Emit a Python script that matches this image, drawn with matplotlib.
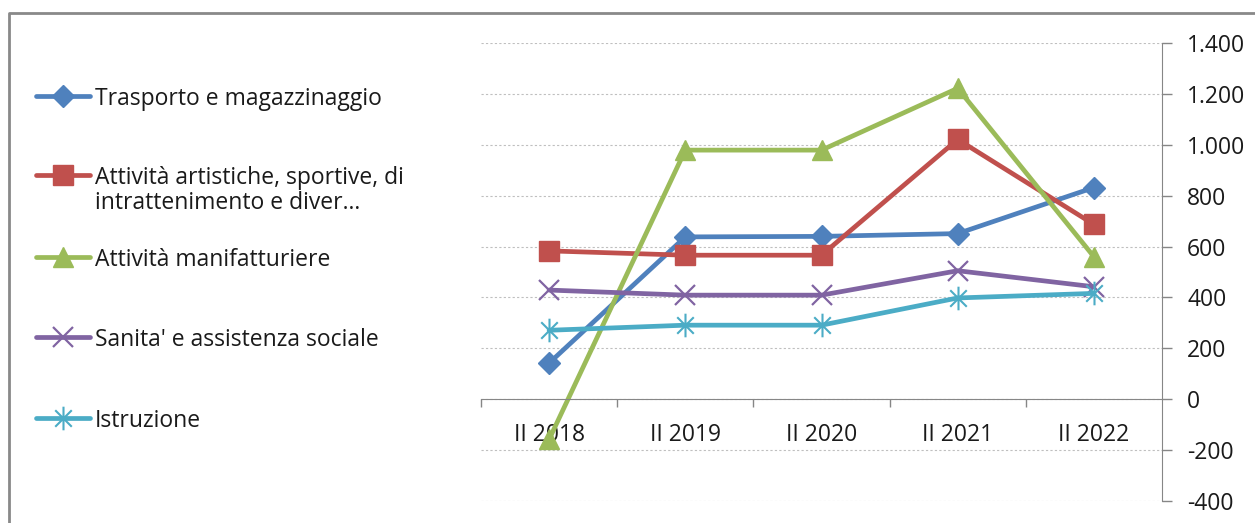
import matplotlib
matplotlib.use('Agg')
from matplotlib import pyplot as plt
from matplotlib.path import Path
from matplotlib.ticker import FuncFormatter, FixedLocator
import numpy as np

# Data
categories = ['II 2018', 'II 2019', 'II 2020', 'II 2021', 'II 2022']
trasporto = [142, 638, 640, 651, 832]
attivita_art = [583, 566, 566, 1021, 687]
manifatturiere = [-158, 979, 979, 1222, 560]
sanita = [429, 409, 409, 505, 442]
istruzione = [271, 291, 291, 398, 416]

labels = ['Trasporto e magazzinaggio',
          'Attività artistiche, sportive, di\nintrattenimento e diver...',
          'Attività manifatturiere',
          "Sanita' e assistenza sociale",
          'Istruzione']

plt.rcParams['font.family'] = ['Open Sans', 'DejaVu Sans']
fs = 16.5

# Excel style "star" marker: vertical bar plus an x
star = Path([(0, -1), (0, 1), (-0.7, -0.7), (0.7, 0.7), (-0.7, 0.7), (0.7, -0.7)],
            [Path.MOVETO, Path.LINETO, Path.MOVETO, Path.LINETO, Path.MOVETO, Path.LINETO])

styles = [
    dict(color='#4F81BD', marker='D', markersize=11),
    dict(color='#C0504D', marker='s', markersize=15),
    dict(color='#9BBB59', marker='^', markersize=15),
    dict(color='#8064A2', marker='x', markersize=14, markeredgewidth=1.6),
    dict(color='#4BACC6', marker=star, markersize=17, markeredgewidth=1.5),
]

W, H = 1255, 523
fig = plt.figure(figsize=(W / 100, H / 100), dpi=100)
ax = fig.add_axes([481 / W, 1 - 501 / H, 681 / W, 458 / H])

x = np.arange(len(categories))
series = [trasporto, attivita_art, manifatturiere, sanita, istruzione]
for vals, lab, st in zip(series, labels, styles):
    ax.plot(x, vals, lw=3.4, label=lab, solid_capstyle='round',
            solid_joinstyle='round', **st)

ax.set_xlim(-0.5, len(categories) - 0.5)
ax.set_ylim(-400, 1400)
ax.set_yticks(np.arange(-400, 1401, 200))
ax.yaxis.set_major_formatter(
    FuncFormatter(lambda v, p: f'{int(v):,}'.replace(',', '.')))
ax.yaxis.tick_right()
ax.tick_params(axis='y', length=7, width=1, color='#868686', pad=11,
               labelsize=fs, labelcolor='#1a1a1a')
ax.grid(axis='y', color='#BFBFBF', linestyle=(0, (2, 2)), lw=0.8)
ax.set_axisbelow(True)

# category ticks between groups, labels centred on groups
ax.xaxis.set_major_locator(FixedLocator(np.arange(-0.5, len(categories) - 0.5, 1)))
ax.xaxis.set_major_formatter(FuncFormatter(lambda v, p: ''))
ax.xaxis.set_minor_locator(FixedLocator(x))
ax.set_xticklabels(categories, minor=True)
ax.tick_params(axis='x', which='major', length=6, width=1, color='#868686',
               direction='out')
ax.tick_params(axis='x', which='minor', length=0, pad=17, labelsize=fs,
               labelcolor='#1a1a1a')

for s in ['top', 'left']:
    ax.spines[s].set_visible(False)
ax.spines['bottom'].set_position(('data', 0))
ax.spines['bottom'].set_color('#868686')
ax.spines['right'].set_color('#868686')

# legend drawn Excel-like: handle aligned with the first text line
legend_rows = [96, 175, 257, 337, 418]
for line, row in zip(ax.get_lines(), legend_rows):
    yf = 1 - row / H
    fig.add_artist(plt.Line2D([36 / W, 90 / W], [yf, yf], transform=fig.transFigure,
                              color=line.get_color(), lw=3.4,
                              solid_capstyle='round'))
    fig.add_artist(plt.Line2D([63 / W], [yf], transform=fig.transFigure,
                              color=line.get_color(), lw=0,
                              marker=line.get_marker(),
                              markersize=line.get_markersize(),
                              markeredgewidth=line.get_markeredgewidth()))
    for k, txt in enumerate(line.get_label().split('\n')):
        fig.text(95 / W, 1 - (row + 25 * k) / H, txt, fontsize=fs,
                 va='center_baseline', ha='left', color='#1a1a1a')

# outer chart border (top and left visible)
fig.add_artist(plt.Line2D([9 / W, 9 / W, 1], [0, 1 - 13 / H, 1 - 13 / H],
                          transform=fig.transFigure, color='#898989', lw=2))

fig.savefig('out.png', dpi=100)
